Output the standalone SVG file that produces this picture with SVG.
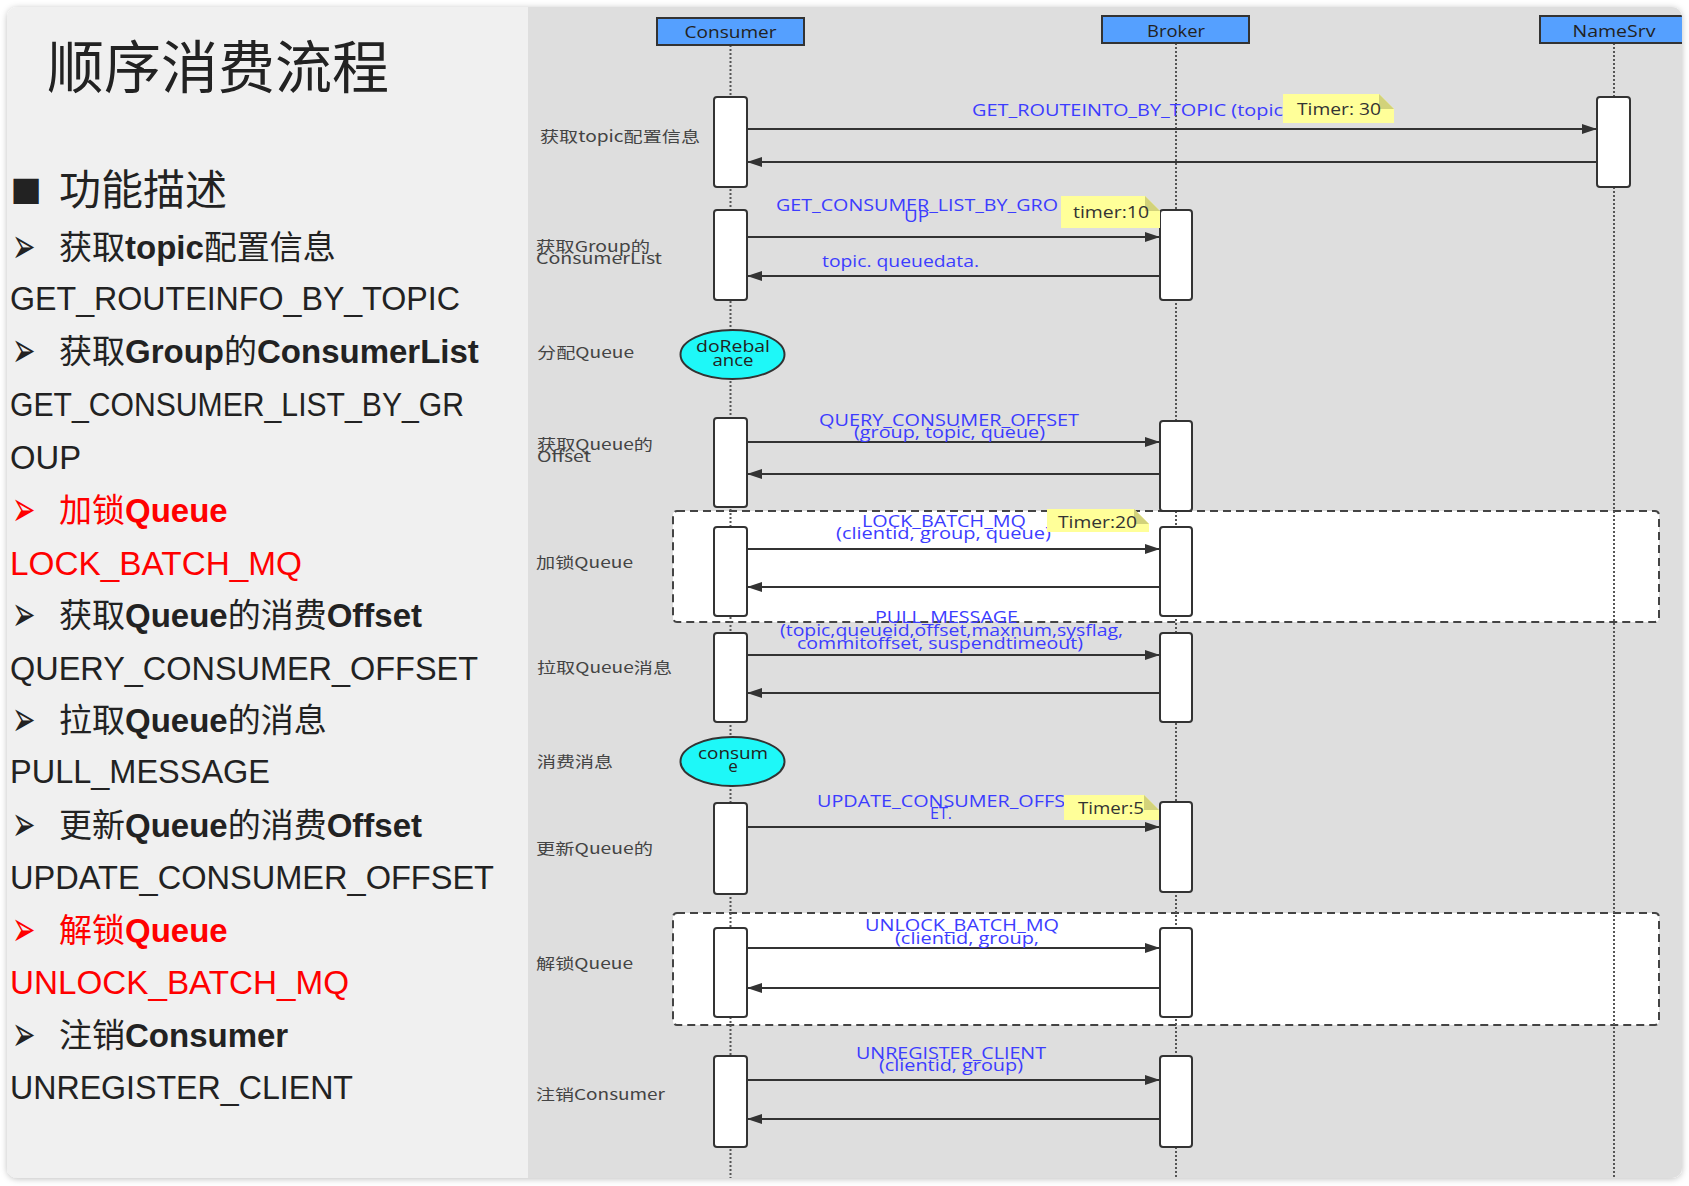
<svg xmlns="http://www.w3.org/2000/svg" width="1689" height="1186" viewBox="0 0 1689 1186">
<style>
.hd{font-family:"Liberation Sans","Noto Sans CJK SC",sans-serif;font-size:33px;fill:#222}
.hd .b{font-weight:bold}
.bul{font-family:"DejaVu Sans",sans-serif;font-size:28px;fill:#222}
.lat{font-family:"Liberation Sans",sans-serif;font-size:33px;fill:#222}
.red{fill:#ff0000}
.lb{font-family:"Noto Sans CJK SC","Noto Sans",sans-serif;font-size:15px;fill:#444}
.ml{font-family:"Open Sans","Noto Sans CJK SC",sans-serif;font-size:17px;fill:#3c3cff}
.nt{font-family:"Open Sans",sans-serif;font-size:17px;fill:#333}
.ht{font-family:"Open Sans",sans-serif;font-size:17px;fill:#222;text-anchor:middle}
.et{font-family:"Open Sans",sans-serif;font-size:17px;fill:#222;text-anchor:middle}
.hdr{fill:#55a0ff;stroke:#333;stroke-width:2}
.act{fill:#fff;stroke:#333;stroke-width:2}
.ell{fill:#1ef8f8;stroke:#333;stroke-width:2}
.life{stroke:#555;stroke-width:2;stroke-dasharray:2 2;fill:none}
.frag{fill:#fff;stroke:#444;stroke-width:2;stroke-dasharray:8 5}
.msg{stroke:#333;stroke-width:2;fill:none;marker-end:url(#ah)}
.note{fill:#ffff99}
.fold{fill:#d2d27a}
</style>
<defs>
<marker id="ah" markerUnits="userSpaceOnUse" markerWidth="15" markerHeight="10" refX="15" refY="5" orient="auto"><path d="M0,0 L15,5 L0,10 z" fill="#333"/></marker>
<filter id="sh" x="-2%" y="-2%" width="104%" height="104%"><feDropShadow dx="0" dy="1" stdDeviation="3" flood-color="#000" flood-opacity="0.25"/></filter>
<clipPath id="fr"><rect x="7" y="7" width="1675" height="1171" rx="10"/></clipPath>
</defs>
<rect width="1689" height="1186" fill="#fff"/>
<g id="frame">
<rect x="7" y="7" width="1675" height="1171" rx="10" fill="#f0f0f0" filter="url(#sh)"/>
<rect x="528" y="7" width="1160" height="1171" fill="#dedede" clip-path="url(#fr)"/>
</g>
<g id="left-panel">
<text class="hd" x="47" y="88" style="font-size:57px">顺序消费流程</text>
<text class="bul" x="10.5" y="200" style="font-size:33px">■</text>
<text class="hd" x="59" y="205" style="font-size:42px">功能描述</text>
<text class="bul" transform="translate(12,263) scale(1,1.77)">➢</text>
<text class="hd" x="59" y="259">获取<tspan class="b">topic</tspan>配置信息</text>
<text class="lat" x="10" y="310" textLength="450" lengthAdjust="spacingAndGlyphs">GET_ROUTEINFO_BY_TOPIC</text>
<text class="bul" transform="translate(12,367) scale(1,1.77)">➢</text>
<text class="hd" x="59" y="363">获取<tspan class="b">Group</tspan>的<tspan class="b">ConsumerList</tspan></text>
<text class="lat" x="10" y="416" textLength="454" lengthAdjust="spacingAndGlyphs">GET_CONSUMER_LIST_BY_GR</text>
<text class="lat" x="10" y="469" textLength="71" lengthAdjust="spacingAndGlyphs">OUP</text>
<text class="bul red" transform="translate(12,526) scale(1,1.77)">➢</text>
<text class="hd red" x="59" y="522">加锁<tspan class="b">Queue</tspan></text>
<text class="lat red" x="10" y="575" textLength="292" lengthAdjust="spacingAndGlyphs">LOCK_BATCH_MQ</text>
<text class="bul" transform="translate(12,631) scale(1,1.77)">➢</text>
<text class="hd" x="59" y="627">获取<tspan class="b">Queue</tspan>的消费<tspan class="b">Offset</tspan></text>
<text class="lat" x="10" y="680" textLength="468" lengthAdjust="spacingAndGlyphs">QUERY_CONSUMER_OFFSET</text>
<text class="bul" transform="translate(12,736) scale(1,1.77)">➢</text>
<text class="hd" x="59" y="732">拉取<tspan class="b">Queue</tspan>的消息</text>
<text class="lat" x="10" y="783" textLength="260" lengthAdjust="spacingAndGlyphs">PULL_MESSAGE</text>
<text class="bul" transform="translate(12,841) scale(1,1.77)">➢</text>
<text class="hd" x="59" y="837">更新<tspan class="b">Queue</tspan>的消费<tspan class="b">Offset</tspan></text>
<text class="lat" x="10" y="889" textLength="484" lengthAdjust="spacingAndGlyphs">UPDATE_CONSUMER_OFFSET</text>
<text class="bul red" transform="translate(12,946) scale(1,1.77)">➢</text>
<text class="hd red" x="59" y="942">解锁<tspan class="b">Queue</tspan></text>
<text class="lat red" x="10" y="994" textLength="339" lengthAdjust="spacingAndGlyphs">UNLOCK_BATCH_MQ</text>
<text class="bul" transform="translate(12,1051) scale(1,1.77)">➢</text>
<text class="hd" x="59" y="1047">注销<tspan class="b">Consumer</tspan></text>
<text class="lat" x="10" y="1099" textLength="343" lengthAdjust="spacingAndGlyphs">UNREGISTER_CLIENT</text>
</g>
<g id="diagram" clip-path="url(#fr)">
<g id="fragment-lock"><rect class="frag" x="673" y="511" width="986" height="111" rx="4"/></g>
<g id="fragment-unlock"><rect class="frag" x="673" y="913" width="986" height="112" rx="4"/></g>
<g id="lifelines">
<line class="life" x1="730.5" y1="45" x2="730.5" y2="1180"/>
<line class="life" x1="1176" y1="43" x2="1176" y2="1180"/>
<line class="life" x1="1614" y1="43" x2="1614" y2="1180"/>
</g>
<g id="consumer"><rect class="hdr" x="657" y="18" width="147" height="27"/><text class="ht" x="730.5" y="38" textLength="92" lengthAdjust="spacingAndGlyphs">Consumer</text></g>
<g id="broker"><rect class="hdr" x="1102" y="16" width="147" height="27"/><text class="ht" x="1176" y="37" textLength="58" lengthAdjust="spacingAndGlyphs">Broker</text></g>
<g id="namesrv"><rect class="hdr" x="1540" y="16" width="160" height="27"/><text class="ht" x="1614" y="37" textLength="83" lengthAdjust="spacingAndGlyphs">NameSrv</text></g>
<g id="activations">
<rect class="act" x="714" y="97" width="33" height="90" rx="3"/>
<rect class="act" x="714" y="210" width="33" height="90" rx="3"/>
<rect class="act" x="714" y="418" width="33" height="89" rx="3"/>
<rect class="act" x="714" y="527" width="33" height="89" rx="3"/>
<rect class="act" x="714" y="633" width="33" height="89" rx="3"/>
<rect class="act" x="714" y="803" width="33" height="91" rx="3"/>
<rect class="act" x="714" y="928" width="33" height="89" rx="3"/>
<rect class="act" x="714" y="1056" width="33" height="91" rx="3"/>
<rect class="act" x="1160" y="210" width="32" height="90" rx="3"/>
<rect class="act" x="1160" y="421" width="32" height="90" rx="3"/>
<rect class="act" x="1160" y="527" width="32" height="89" rx="3"/>
<rect class="act" x="1160" y="633" width="32" height="89" rx="3"/>
<rect class="act" x="1160" y="802" width="32" height="90" rx="3"/>
<rect class="act" x="1160" y="928" width="32" height="89" rx="3"/>
<rect class="act" x="1160" y="1056" width="32" height="91" rx="3"/>
<rect class="act" x="1597" y="97" width="33" height="90" rx="3"/>
</g>
<g id="dorebalance"><ellipse class="ell" cx="732.5" cy="354.5" rx="52" ry="24.5"/><text class="et" x="733" y="352" textLength="74" lengthAdjust="spacingAndGlyphs">doRebal</text><text class="et" x="733" y="366" textLength="41" lengthAdjust="spacingAndGlyphs">ance</text></g>
<g id="consume"><ellipse class="ell" cx="732.5" cy="761.5" rx="52" ry="24.5"/><text class="et" x="733" y="759" textLength="70" lengthAdjust="spacingAndGlyphs">consum</text><text class="et" x="733" y="772">e</text></g>
<g id="connectors">
<line class="msg" x1="747" y1="129" x2="1597" y2="129"/>
<line class="msg" x1="1597" y1="162" x2="747" y2="162"/>
<line class="msg" x1="747" y1="237" x2="1160" y2="237"/>
<line class="msg" x1="1160" y1="276" x2="747" y2="276"/>
<line class="msg" x1="747" y1="442" x2="1160" y2="442"/>
<line class="msg" x1="1160" y1="474" x2="747" y2="474"/>
<line class="msg" x1="747" y1="549" x2="1160" y2="549"/>
<line class="msg" x1="1160" y1="587" x2="747" y2="587"/>
<line class="msg" x1="747" y1="655" x2="1160" y2="655"/>
<line class="msg" x1="1160" y1="693" x2="747" y2="693"/>
<line class="msg" x1="747" y1="827" x2="1160" y2="827"/>
<line class="msg" x1="747" y1="948" x2="1160" y2="948"/>
<line class="msg" x1="1160" y1="988" x2="747" y2="988"/>
<line class="msg" x1="747" y1="1080" x2="1160" y2="1080"/>
<line class="msg" x1="1160" y1="1119" x2="747" y2="1119"/>
</g>
<g id="step-labels">
<text class="lb" x="540" y="142" textLength="160" lengthAdjust="spacingAndGlyphs">获取topic配置信息</text>
<text class="lb" x="536" y="252" textLength="114" lengthAdjust="spacingAndGlyphs">获取Group的</text>
<text class="lb" x="536" y="264" textLength="126" lengthAdjust="spacingAndGlyphs">ConsumerList</text>
<text class="lb" x="537" y="358" textLength="97" lengthAdjust="spacingAndGlyphs">分配Queue</text>
<text class="lb" x="537" y="450" textLength="116" lengthAdjust="spacingAndGlyphs">获取Queue的</text>
<text class="lb" x="537" y="462" textLength="54" lengthAdjust="spacingAndGlyphs">Offset</text>
<text class="lb" x="536" y="568" textLength="97" lengthAdjust="spacingAndGlyphs">加锁Queue</text>
<text class="lb" x="537" y="673" textLength="135" lengthAdjust="spacingAndGlyphs">拉取Queue消息</text>
<text class="lb" x="537" y="767" textLength="76" lengthAdjust="spacingAndGlyphs">消费消息</text>
<text class="lb" x="536" y="854" textLength="117" lengthAdjust="spacingAndGlyphs">更新Queue的</text>
<text class="lb" x="536" y="969" textLength="97" lengthAdjust="spacingAndGlyphs">解锁Queue</text>
<text class="lb" x="536" y="1100" textLength="129" lengthAdjust="spacingAndGlyphs">注销Consumer</text>
</g>
<g id="message-labels">
<text class="ml" x="972" y="116" textLength="311" lengthAdjust="spacingAndGlyphs">GET_ROUTEINTO_BY_TOPIC (topic</text>
<text class="ml" x="776" y="211" textLength="282" lengthAdjust="spacingAndGlyphs">GET_CONSUMER_LIST_BY_GRO</text>
<text class="ml" x="904" y="222" textLength="25" lengthAdjust="spacingAndGlyphs">UP</text>
<text class="ml" x="822" y="267" textLength="157" lengthAdjust="spacingAndGlyphs">topic. queuedata.</text>
<text class="ml" x="819" y="426" textLength="260" lengthAdjust="spacingAndGlyphs">QUERY_CONSUMER_OFFSET</text>
<text class="ml" x="854" y="438" textLength="191" lengthAdjust="spacingAndGlyphs">(group, topic, queue)</text>
<text class="ml" x="862" y="527" textLength="164" lengthAdjust="spacingAndGlyphs">LOCK_BATCH_MQ</text>
<text class="ml" x="836" y="539" textLength="215" lengthAdjust="spacingAndGlyphs">(clientid, group, queue)</text>
<text class="ml" x="875" y="623" textLength="143" lengthAdjust="spacingAndGlyphs">PULL_MESSAGE</text>
<text class="ml" x="780" y="636" textLength="343" lengthAdjust="spacingAndGlyphs">(topic,queueid,offset,maxnum,sysflag,</text>
<text class="ml" x="797" y="649" textLength="286" lengthAdjust="spacingAndGlyphs">commitoffset, suspendtimeout)</text>
<text class="ml" x="817" y="807" textLength="248" lengthAdjust="spacingAndGlyphs">UPDATE_CONSUMER_OFFS</text>
<text class="ml" x="930" y="819" textLength="22" lengthAdjust="spacingAndGlyphs">ET.</text>
<text class="ml" x="865" y="931" textLength="194" lengthAdjust="spacingAndGlyphs">UNLOCK_BATCH_MQ</text>
<text class="ml" x="895" y="944" textLength="144" lengthAdjust="spacingAndGlyphs">(clientid, group,</text>
<text class="ml" x="856" y="1059" textLength="190" lengthAdjust="spacingAndGlyphs">UNREGISTER_CLIENT</text>
<text class="ml" x="879" y="1071" textLength="144" lengthAdjust="spacingAndGlyphs">(clientid, group)</text>
</g>
<g id="note-timer30"><polygon class="note" points="1283,94 1379,94 1394,109 1394,123 1283,123"/><polygon class="fold" points="1379,94 1379,109 1394,109"/><text class="nt" x="1297" y="115" textLength="84" lengthAdjust="spacingAndGlyphs">Timer: 30</text></g>
<g id="note-timer10"><polygon class="note" points="1061,196 1145,196 1160,211 1160,228 1061,228"/><polygon class="fold" points="1145,196 1145,211 1160,211"/><text class="nt" x="1073" y="218" textLength="76" lengthAdjust="spacingAndGlyphs">timer:10</text></g>
<g id="note-timer20"><polygon class="note" points="1047,509 1134,509 1149,524 1149,532 1047,532"/><polygon class="fold" points="1134,509 1134,524 1149,524"/><text class="nt" x="1058" y="528" textLength="79" lengthAdjust="spacingAndGlyphs">Timer:20</text></g>
<g id="note-timer5"><polygon class="note" points="1064,795 1144,795 1159,810 1159,820 1064,820"/><polygon class="fold" points="1144,795 1144,810 1159,810"/><text class="nt" x="1078" y="814" textLength="66" lengthAdjust="spacingAndGlyphs">Timer:5</text></g>
</g>
</svg>
